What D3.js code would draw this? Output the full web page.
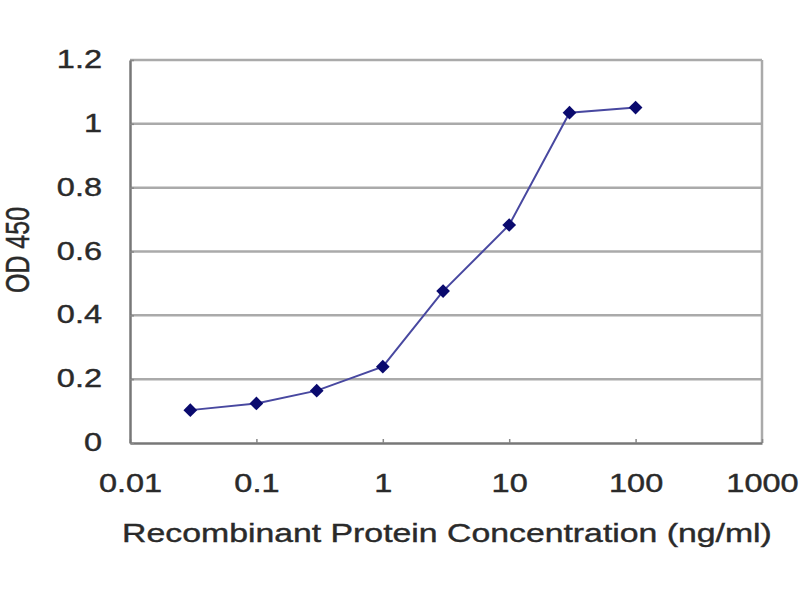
<!DOCTYPE html>
<html><head><meta charset="utf-8">
<script src="https://cdn.jsdelivr.net/npm/d3@7"></script>
<style>body{margin:0;background:#fff}svg{display:block}</style>
</head><body>
<svg id="c" width="800" height="600"></svg>
<script>
const concentrations = [0.03, 0.1, 0.3, 1, 3, 10, 30, 100];
const odValues = [0.103, 0.124, 0.164, 0.239, 0.476, 0.683, 1.035, 1.051];
const xTicks = [0.01, 0.1, 1, 10, 100, 1000];
const xTickLabels = ["0.01", "0.1", "1", "10", "100", "1000"];
const yTicks = [0, 0.2, 0.4, 0.6, 0.8, 1, 1.2];
const yTickLabels = ["0", "0.2", "0.4", "0.6", "0.8", "1", "1.2"];

const svg = d3.select("#c");
const L = 130, R = 762, T = 60, B = 443;
const x = d3.scaleLog().domain([0.01, 1000]).range([L, R]);
const y = d3.scaleLinear().domain([0, 1.2]).range([B, T]);
const font = "Arial, 'Liberation Sans', sans-serif";
const SX = 1.3; // horizontal stretch of text seen in the reference
const textCol = "#2a2a2a";

// gridlines
svg.append("g").selectAll("line").data(yTicks.slice(1)).join("line")
  .attr("x1", L).attr("x2", R).attr("y1", d => y(d)).attr("y2", d => y(d))
  .attr("stroke", "#aaaaaa").attr("stroke-width", 2.5);
// right border
svg.append("line").attr("x1", R).attr("x2", R).attr("y1", T).attr("y2", B)
  .attr("stroke", "#aaaaaa").attr("stroke-width", 2.5);

// axes
const xAxis = d3.axisBottom(x).tickValues(xTicks).tickFormat((d, i) => xTickLabels[i]).tickSize(4).tickSizeOuter(0);
const gx = svg.append("g").attr("transform", `translate(0,${B})`).call(xAxis);
gx.select(".domain").attr("stroke", "#777").attr("stroke-width", 2.5);
gx.selectAll(".tick line").attr("stroke", "#888").attr("stroke-width", 1.5).attr("y2", -4);
gx.selectAll(".tick text").attr("font-family", font).attr("font-size", 25).attr("fill", textCol)
  .attr("stroke", textCol).attr("stroke-width", 0.4)
  .attr("dy", 0).attr("y", 49).attr("transform", `scale(${SX},1)`);

const yAxis = d3.axisLeft(y).tickValues(yTicks).tickFormat((d, i) => yTickLabels[i]).tickSize(4).tickSizeOuter(0);
const gy = svg.append("g").attr("transform", `translate(${L},0)`).call(yAxis);
gy.select(".domain").attr("stroke", "#777").attr("stroke-width", 2.5);
gy.selectAll(".tick line").attr("stroke", "#888").attr("stroke-width", 1.5).attr("x2", 4);
gy.selectAll(".tick text").attr("font-family", font).attr("font-size", 25).attr("fill", textCol)
  .attr("stroke", textCol).attr("stroke-width", 0.4)
  .attr("x", -28 / SX).attr("dy", "0.3em").attr("transform", `scale(${SX},1)`);

// line
const pts = concentrations.map((c, i) => [c, odValues[i]]);
svg.append("path").datum(pts)
  .attr("d", d3.line().x(d => x(d[0])).y(d => y(d[1])))
  .attr("fill", "none").attr("stroke", "#4848a0").attr("stroke-width", 2);
// markers
svg.append("g").selectAll("path").data(pts).join("path")
  .attr("transform", d => `translate(${x(d[0])},${y(d[1])})`)
  .attr("d", d3.symbol(d3.symbolDiamond2, 120)())
  .attr("fill", "#0a0a6e");

// titles
svg.append("text").attr("transform", `translate(447,542) scale(${SX},1)`).attr("text-anchor", "middle")
  .attr("font-family", font).attr("font-size", 26).attr("fill", textCol)
  .attr("stroke", textCol).attr("stroke-width", 0.4)
  .text("Recombinant Protein Concentration (ng/ml)");
svg.append("text").attr("transform", `translate(29,250) rotate(-90) scale(1,${SX})`).attr("text-anchor", "middle")
  .attr("font-family", font).attr("font-size", 25).attr("fill", textCol)
  .attr("stroke", textCol).attr("stroke-width", 0.4)
  .text("OD 450");
</script>
</body></html>
